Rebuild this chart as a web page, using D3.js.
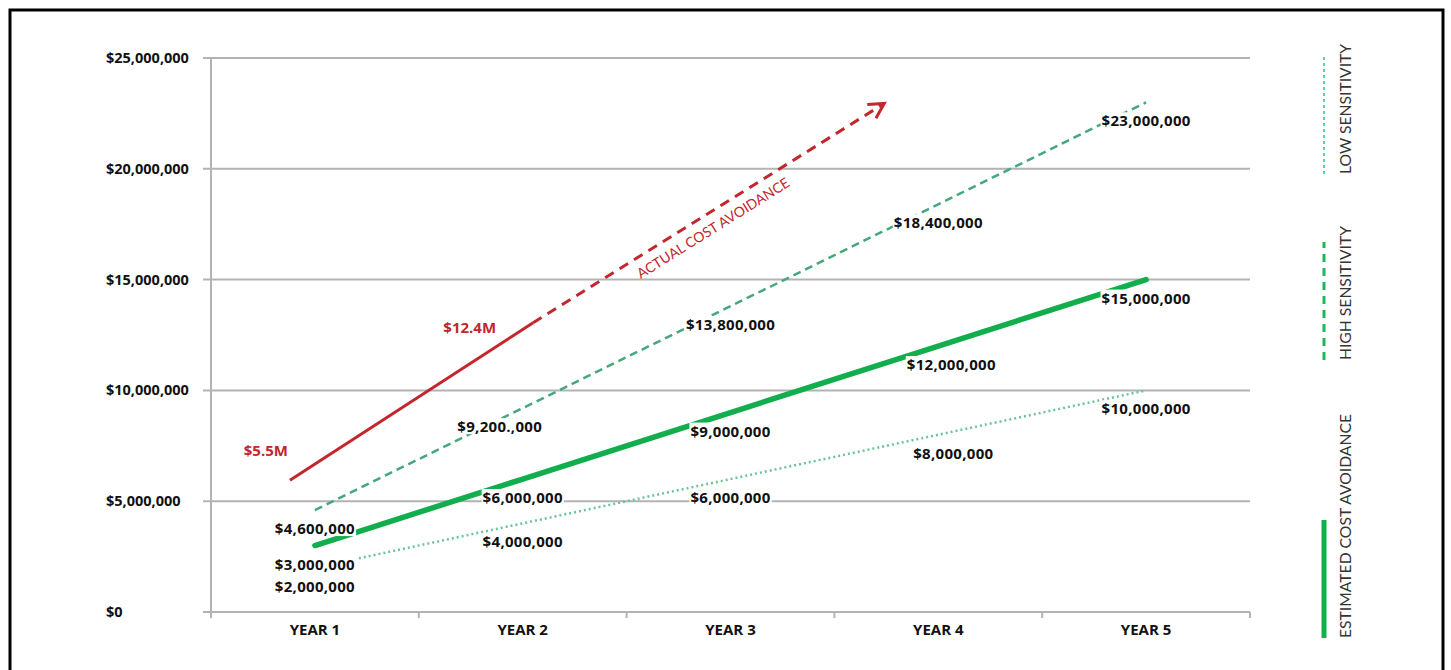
<!DOCTYPE html>
<html>
<head>
<meta charset="utf-8">
<script src="https://cdn.jsdelivr.net/npm/d3@7"></script>
<style>
  body { margin: 0; background: #fff; }
  text { font-family: "Open Sans", Lato, sans-serif; }
  .thin { font-family: Lato, sans-serif; }
</style>
</head>
<body>
<div id="chart"></div>
<script>

// categories and values
var years = ["YEAR 1", "YEAR 2", "YEAR 3", "YEAR 4", "YEAR 5"];
var yTicks = [0, 5000000, 10000000, 15000000, 20000000, 25000000];

var estimated = [3000000, 6000000, 9000000, 12000000, 15000000];
var highSens = [4600000, 9200000, 13800000, 18400000, 23000000];
var lowSens = [2000000, 4000000, 6000000, 8000000, 10000000];

var estimatedLabels = ["$3,000,000", "$6,000,000", "$9,000,000", "$12,000,000", "$15,000,000"];
var highLabels = ["$4,600,000", "$9,200.,000", "$13,800,000", "$18,400,000", "$23,000,000"];
var lowLabels = ["$2,000,000", "$4,000,000", "$6,000,000", "$8,000,000", "$10,000,000"];

// actual cost avoidance arrow (position in year index, value)
var actualIndex = [-0.12, 1.05, 2.74];
var actualValue = [5950000, 13050000, 22950000];
var actualLabels = ["$5.5M", "$12.4M"];

var legendNames = ["LOW SENSITIVITY", "HIGH SENSITIVITY", "ESTIMATED COST AVOIDANCE"];

window.onload = function() {

  var w = 1451;
  var h = 670;
  var left = 211, right = 1250, top = 58, bottom = 612;

  var svg = d3.select("#chart").append("svg")
    .attr("width", w)
    .attr("height", h);

  // black frame round the whole thing
  svg.append("rect")
    .attr("x", 10).attr("y", 10)
    .attr("width", 1433).attr("height", 680)
    .attr("fill", "none")
    .attr("stroke", "#000")
    .attr("stroke-width", 3);

  var x = d3.scaleBand().domain(years).range([left, right]);
  var y = d3.scaleLinear().domain([0, 25000000]).range([bottom, top]);

  // year index -> centre of band
  var xi = d3.scaleLinear().domain([0, 4])
    .range([x(years[0]) + x.bandwidth() / 2, x(years[4]) + x.bandwidth() / 2]);

  // gridlines
  svg.append("g")
    .selectAll("line")
    .data(yTicks)
    .enter()
    .append("line")
    .attr("x1", left - 8)
    .attr("x2", right)
    .attr("y1", function(d) { return y(d); })
    .attr("y2", function(d) { return y(d); })
    .attr("stroke", "#b3b3b3")
    .attr("stroke-width", 2);

  // y axis line
  svg.append("line")
    .attr("x1", left).attr("x2", left)
    .attr("y1", top).attr("y2", bottom)
    .attr("stroke", "#b3b3b3")
    .attr("stroke-width", 2);

  // x axis ticks at band edges
  var edges = years.map(function(d) { return x(d); }).concat([right]);
  svg.append("g")
    .selectAll("line")
    .data(edges)
    .enter()
    .append("line")
    .attr("x1", function(d) { return d; })
    .attr("x2", function(d) { return d; })
    .attr("y1", bottom)
    .attr("y2", bottom + 6)
    .attr("stroke", "#b3b3b3")
    .attr("stroke-width", 2);

  // y tick labels, left aligned
  svg.append("g")
    .selectAll("text")
    .data(yTicks)
    .enter()
    .append("text")
    .attr("x", 106)
    .attr("y", function(d) { return y(d) + 5; })
    .attr("font-size", "14.5px")
    .attr("font-weight", 700)
    .attr("fill", "#111")
    .text(function(d) { return d3.format("$,")(d); });

  // x tick labels
  svg.append("g")
    .selectAll("text")
    .data(years)
    .enter()
    .append("text")
    .attr("x", function(d) { return x(d) + x.bandwidth() / 2; })
    .attr("y", 635)
    .attr("text-anchor", "middle")
    .attr("font-size", "15px")
    .attr("font-weight", 700)
    .attr("fill", "#111")
    .text(function(d) { return d; });

  var line = d3.line()
    .x(function(d, i) { return xi(i); })
    .y(function(d) { return y(d); });

  svg.append("path")
    .datum(lowSens)
    .attr("d", line)
    .attr("fill", "none")
    .attr("stroke", "#6cc39a")
    .attr("stroke-width", 2.5)
    .attr("stroke-dasharray", "2,3");

  svg.append("path")
    .datum(highSens)
    .attr("d", line)
    .attr("fill", "none")
    .attr("stroke", "#45a87b")
    .attr("stroke-width", 2.5)
    .attr("stroke-dasharray", "8,5");

  svg.append("path")
    .datum(estimated)
    .attr("d", line)
    .attr("fill", "none")
    .attr("stroke", "#12ad4d")
    .attr("stroke-width", 5.5)
    .attr("stroke-linecap", "round");

  // red arrow for the actual cost avoidance
  var red = "#c1272d";
  var ax = actualIndex.map(function(d) { return xi(d); });
  var ay = actualValue.map(function(d) { return y(d); });

  svg.append("line")
    .attr("x1", ax[0]).attr("y1", ay[0])
    .attr("x2", ax[1]).attr("y2", ay[1])
    .attr("stroke", red)
    .attr("stroke-width", 3);

  svg.append("line")
    .attr("x1", ax[1]).attr("y1", ay[1])
    .attr("x2", ax[2]).attr("y2", ay[2])
    .attr("stroke", red)
    .attr("stroke-width", 3)
    .attr("stroke-dasharray", "10,7");

  // open arrow head
  var ang = Math.atan2(ay[2] - ay[1], ax[2] - ax[1]);
  var hl = 17;
  var head = [
    [ax[2] - hl * Math.cos(ang - 0.5), ay[2] - hl * Math.sin(ang - 0.5)],
    [ax[2], ay[2]],
    [ax[2] - hl * Math.cos(ang + 0.5), ay[2] - hl * Math.sin(ang + 0.5)]
  ];
  svg.append("path")
    .attr("d", d3.line()(head))
    .attr("fill", "none")
    .attr("stroke", red)
    .attr("stroke-width", 3);

  // label along the dashed part
  var tx = ax[1] + (ax[2] - ax[1]) * 0.49;
  var ty = ay[1] + (ay[2] - ay[1]) * 0.49;
  var deg = ang * 180 / Math.PI;
  svg.append("text")
    .attr("class", "thin")
    .attr("transform", "translate(" + tx + "," + ty + ") rotate(" + deg + ") translate(0,20)")
    .attr("text-anchor", "middle")
    .attr("font-size", "14px")
    .attr("fill", red)
    .text("ACTUAL COST AVOIDANCE");

  svg.append("text")
    .attr("x", ax[0] - 2).attr("y", ay[0] - 24)
    .attr("text-anchor", "end")
    .attr("font-size", "15px")
    .attr("font-weight", 700)
    .attr("fill", red)
    .text(actualLabels[0]);

  svg.append("text")
    .attr("x", ax[1] - 37).attr("y", ay[1] + 10)
    .attr("text-anchor", "end")
    .attr("font-size", "15px")
    .attr("font-weight", 700)
    .attr("fill", red)
    .text(actualLabels[1]);

  // value labels under each point, with a white box behind them
  var nudge = {"$9,200.,000": -23, "$12,000,000": 13, "$8,000,000": 15};
  var all = [];
  [[highSens, highLabels], [estimated, estimatedLabels], [lowSens, lowLabels]].forEach(function(s) {
    s[0].forEach(function(v, i) {
      all.push({i: i, v: v, t: s[1][i]});
    });
  });

  var lab = svg.append("g")
    .selectAll("g")
    .data(all)
    .enter()
    .append("g")
    .attr("transform", function(d) {
      var dx = nudge[d.t] || 0;
      return "translate(" + (xi(d.i) + dx) + "," + (y(d.v) + 19) + ")";
    });

  lab.append("text")
    .attr("y", 5)
    .attr("text-anchor", "middle")
    .attr("font-size", "15px")
    .attr("font-weight", 700)
    .attr("letter-spacing", "0.3px")
    .attr("fill", "#111")
    .text(function(d) { return d.t; });

  lab.insert("rect", "text")
    .each(function() {
      var b = this.nextSibling.getBBox();
      d3.select(this)
        .attr("x", b.x - 1).attr("y", b.y + 2)
        .attr("width", b.width + 2).attr("height", b.height - 4);
    })
    .attr("fill", "#fff");

  // legend on the right, rotated text with a line sample
  var legBottom = [174, 360, 638];
  var legStyle = [
    {c: "#5fd39a", w: 2, dash: "3,3"},
    {c: "#1cb85a", w: 3, dash: "8,6"},
    {c: "#0db14b", w: 5, dash: null}
  ];

  legendNames.forEach(function(name, i) {
    svg.append("line")
      .attr("x1", 1324).attr("x2", 1324)
      .attr("y1", legBottom[i])
      .attr("y2", legBottom[i] - 118)
      .attr("stroke", legStyle[i].c)
      .attr("stroke-width", legStyle[i].w)
      .attr("stroke-dasharray", legStyle[i].dash);

    svg.append("text")
      .attr("class", "thin")
      .attr("transform", "translate(1351," + legBottom[i] + ") rotate(-90)")
      .attr("font-size", "15.7px")
      .attr("fill", "#333")
      .text(name);
  });

};

</script>
</body>
</html>
